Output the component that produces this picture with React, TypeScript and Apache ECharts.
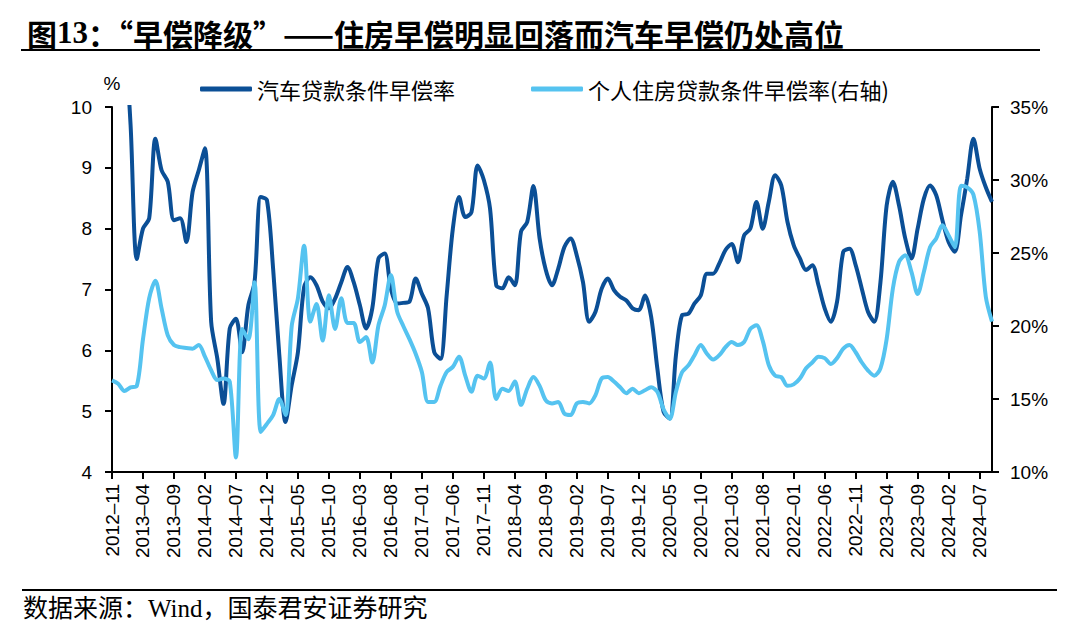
import React, { useEffect, useRef } from "react";
import * as echarts from "echarts";

// monthly categories, 2012-11 .. 2024-09
const months: string[] = [];
for (let k = 0; k < 143; k++) {
  const y = 2012 + Math.floor((10 + k) / 12);
  const m = ((10 + k) % 12) + 1;
  months.push(`${y}-${m < 10 ? "0" + m : m}`);
}

// 汽车贷款条件早偿率 (%, left axis)
const autoRate = [
  12.5, 12.0, 11.2, 9.7, 7.5, 8.0, 8.17, 9.48, 8.96, 8.77,
  8.14, 8.17, 7.78, 8.6, 8.96, 9.32, 6.47, 5.86, 5.12, 6.36,
  6.52, 5.97, 6.74, 7.12, 8.52, 8.47, 7.34, 5.92, 4.82, 5.43,
  5.97, 7.04, 7.2, 7.07, 6.8, 6.69, 6.85, 7.12, 7.37, 7.12,
  6.74, 6.36, 6.69, 7.51, 7.59, 7.01, 6.77, 6.78, 6.8, 7.18,
  6.93, 6.69, 5.97, 5.86, 6.9, 8.0, 8.52, 8.19, 8.27, 9.04,
  8.8, 8.33, 7.07, 7.02, 7.2, 7.07, 7.95, 8.11, 8.7, 7.84,
  7.32, 7.07, 7.34, 7.7, 7.84, 7.56, 7.12, 6.47, 6.63, 7.01,
  7.18, 6.99, 6.88, 6.82, 6.69, 6.66, 6.9, 6.55, 5.7, 4.99,
  4.88, 5.92, 6.58, 6.6, 6.77, 6.9, 7.26, 7.26, 7.43, 7.65,
  7.75, 7.45, 7.89, 8.0, 8.44, 8.0, 8.45, 8.88, 8.71, 8.11,
  7.73, 7.51, 7.32, 7.4, 7.07, 6.69, 6.47, 6.8, 7.62, 7.67,
  7.4, 7.01, 6.63, 6.47, 7.12, 8.38, 8.77, 8.38, 7.84, 7.51,
  8.0, 8.49, 8.71, 8.55, 8.14, 7.78, 7.62, 8.22, 8.82, 9.48,
  8.99, 8.68, 8.44,
];

// 个人住房贷款条件早偿率 (%, right axis)
const housingRate = [
  16.28, 16.05, 15.55, 15.8, 15.9, 19.1, 21.9, 23.1, 21.2, 19.36,
  18.7, 18.55, 18.5, 18.45, 18.7, 17.9, 16.97, 16.3, 16.4, 16.2,
  11.0, 19.8, 19.1, 23.0, 12.74, 13.3, 13.9, 15.0, 13.9, 20.0,
  21.9, 25.5, 20.3, 21.5, 19.0, 22.1, 19.8, 21.9, 20.2, 20.2,
  18.9, 19.25, 17.5, 20.05, 21.4, 23.5, 21.0, 20.0, 19.1, 18.1,
  16.85, 14.8, 14.8, 15.9, 16.85, 17.2, 17.9, 16.6, 15.5, 16.6,
  16.4, 17.5, 15.0, 15.7, 15.55, 16.2, 14.6, 15.7, 16.5, 15.9,
  14.9, 14.7, 14.8, 14.0, 13.9, 14.7, 14.8, 14.7, 15.25, 16.4,
  16.5, 16.2, 15.8, 15.4, 15.7, 15.4, 15.6, 15.8, 15.5, 14.3,
  13.65, 15.5, 16.85, 17.3, 18.0, 18.7, 18.1, 17.7, 18.0, 18.55,
  18.9, 18.7, 18.9, 19.8, 20.05, 19.0, 17.3, 16.6, 16.5, 15.9,
  16.0, 16.4, 17.1, 17.5, 17.9, 17.8, 17.4, 17.8, 18.45, 18.7,
  18.2, 17.5, 16.95, 16.6, 17.1, 19.1, 22.55, 24.4, 24.85, 23.7,
  22.2, 23.7, 25.4, 26.0, 26.9, 26.2, 25.4, 29.6, 29.5, 29.0,
  26.5, 22.0, 20.3,
];

const seriesNames = ["汽车贷款条件早偿率", "个人住房贷款条件早偿率(右轴)"];
const titleText = "图{n|13}：“早偿降级”——住房早偿明显回落而汽车早偿仍处高位";
const sourceText = "数据来源：Wind，国泰君安证券研究";

const DARK = "#0b4f96";
const LIGHT = "#55c3f0";
const SANS = '"Liberation Sans", Arial, "Noto Sans CJK SC", sans-serif';
const CJK = '"Noto Sans CJK SC", sans-serif';

export default function App() {
  const chartRef = useRef<HTMLDivElement>(null);

  useEffect(() => {
    document.body.style.margin = "0";
    if (!chartRef.current) return;
    const chart = echarts.init(chartRef.current, null, { renderer: "svg" });

    const axisLine = { show: true, lineStyle: { color: "#000", width: 2 } };
    const axisTick = { show: true, length: 7, lineStyle: { color: "#000", width: 2 } };

    chart.setOption({
      animation: false,
      backgroundColor: "#fff",
      title: {
        text: titleText,
        left: 22,
        top: 12,
        textStyle: {
          fontFamily: CJK,
          fontSize: 30,
          fontWeight: "bold",
          color: "#000",
          rich: {
            n: {
              fontFamily: '"Liberation Serif", serif',
              fontSize: 31,
              fontWeight: "bold",
              color: "#000",
            },
          },
        },
      },
      legend: {
        data: seriesNames,
        left: 195,
        top: 73,
        icon: "roundRect",
        itemWidth: 52,
        itemHeight: 5,
        itemGap: 76,
        textStyle: { fontFamily: CJK, fontSize: 22, color: "#000" },
      },
      grid: { left: 112, right: 88, top: 107, bottom: 165, containLabel: false },
      xAxis: {
        type: "category",
        data: months,
        boundaryGap: false,
        axisLine,
        axisTick: { ...axisTick, interval: 4 },
        axisLabel: {
          interval: 4,
          rotate: 90,
          margin: 12,
          fontFamily: SANS,
          fontSize: 19,
          color: "#000",
          formatter: (v: string) => v.replace("-", "–"),
        },
        splitLine: { show: false },
      },
      yAxis: [
        {
          type: "value",
          min: 4,
          max: 10,
          interval: 1,
          name: "%",
          nameLocation: "end",
          nameGap: 14,
          nameTextStyle: { fontFamily: SANS, fontSize: 19, color: "#000", align: "center" },
          axisLine,
          axisTick,
          axisLabel: { margin: 20, fontFamily: SANS, fontSize: 19, color: "#000" },
          splitLine: { show: false },
        },
        {
          type: "value",
          min: 10,
          max: 35,
          interval: 5,
          position: "right",
          axisLine,
          axisTick,
          axisLabel: {
            margin: 18,
            fontFamily: SANS,
            fontSize: 19,
            color: "#000",
            formatter: "{value}%",
          },
          splitLine: { show: false },
        },
      ],
      series: [
        {
          name: seriesNames[0],
          type: "line",
          yAxisIndex: 0,
          data: autoRate,
          smooth: 0.3,
          showSymbol: false,
          clip: true,
          lineStyle: { color: DARK, width: 4 },
          itemStyle: { color: DARK },
        },
        {
          name: seriesNames[1],
          type: "line",
          yAxisIndex: 1,
          data: housingRate,
          smooth: 0.3,
          showSymbol: false,
          clip: true,
          lineStyle: { color: LIGHT, width: 4 },
          itemStyle: { color: LIGHT },
        },
      ],
      graphic: [
        {
          type: "line",
          shape: { x1: 21, y1: 50, x2: 1040, y2: 50 },
          style: { stroke: "#000", lineWidth: 2 },
        },
        {
          type: "line",
          shape: { x1: 22, y1: 590, x2: 1057, y2: 590 },
          style: { stroke: "#000", lineWidth: 2 },
        },
        {
          type: "text",
          left: 23,
          top: 596,
          style: {
            text: sourceText,
            fontFamily: '"Liberation Serif", "Noto Sans CJK SC", serif',
            fontSize: 25,
            fill: "#000",
          },
        },
      ],
    });

    return () => {
      chart.dispose();
    };
  }, []);

  return <div ref={chartRef} style={{ width: 1080, height: 637 }} />;
}
